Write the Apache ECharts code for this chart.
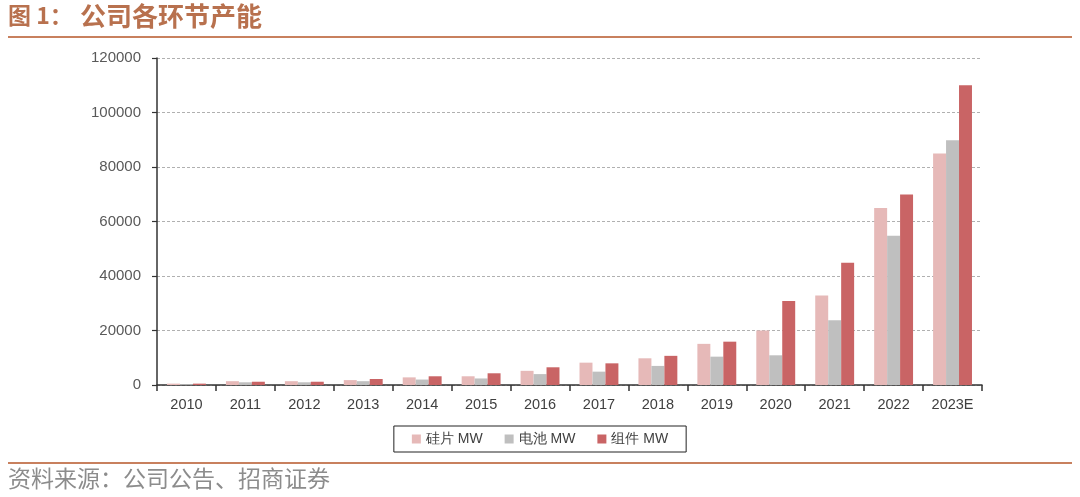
<!DOCTYPE html>
<html><head><meta charset="utf-8">
<script src="https://cdn.jsdelivr.net/npm/echarts@6/dist/echarts.min.js"></script>
<style>html,body{margin:0;padding:0;background:#fff}#c{width:1080px;height:497px}</style>
</head><body><div id="c"></div>
<script>
const categories = ['2010','2011','2012','2013','2014','2015','2016','2017','2018','2019','2020','2021','2022','2023E'];
const silicon = [500,1400,1400,1800,2800,3200,5200,8200,9800,15100,20000,32800,65000,85000];
const cell    = [300,1000,1000,1400,2000,2400,4000,4900,7000,10400,10900,23800,54800,89800];
const module_ = [500,1200,1200,2200,3200,4300,6500,7950,10700,15900,30800,44900,69900,110000];
const yTicks = [0,20000,40000,60000,80000,100000,120000];

const chart = echarts.init(document.getElementById('c'));
const lineColor = '#C8805E';
chart.setOption({
  animation:false,
  textStyle:{fontFamily:'Liberation Sans, Arial, sans-serif'},
  graphic:[
    {type:'text',left:8,top:4,style:{text:'图 1：',font:'bold 23px "Noto Sans CJK SC"',fill:'#B8714E'}},
    {type:'text',left:80,top:3,style:{text:'公司各环节产能',font:'bold 26px "Noto Sans CJK SC"',fill:'#B8714E'}},
    {type:'rect',shape:{x:8,y:36,width:1064,height:2},style:{fill:lineColor}},
    {type:'rect',shape:{x:8,y:462,width:1064,height:2},style:{fill:lineColor}},
    {type:'text',left:8,top:467,style:{text:'资料来源：公司公告、招商证券',font:'23px "Noto Sans CJK SC"',fill:'#8C8C8C'}}
  ],
  legend:{
    bottom:45,left:'center',
    data:['硅片 MW','电池 MW','组件 MW'],
    itemWidth:9,itemHeight:9,itemGap:22,icon:'rect',
    borderColor:'#222',borderWidth:1,padding:[6,18,6,18],
    textStyle:{fontSize:14,color:'#404040'}
  },
  grid:{left:157,right:98,top:58,bottom:112},
  xAxis:{
    type:'category',data:categories,
    axisLine:{lineStyle:{color:'#333',width:1.5}},
    axisTick:{show:true,length:6,lineStyle:{color:'#333',width:1.5}},
    axisLabel:{fontSize:14.5,color:'#404040',margin:12},
    splitLine:{show:false}
  },
  yAxis:{
    type:'value',min:yTicks[0],max:yTicks[yTicks.length-1],interval:20000,
    axisLine:{show:true,lineStyle:{color:'#333',width:1.5}},
    axisTick:{show:true,length:5,inside:false,lineStyle:{color:'#333',width:1.2}},
    axisLabel:{fontSize:15,color:'#595959',margin:16,formatter:v=>String(v)},
    splitLine:{show:true,lineStyle:{color:'#B0B0B0',type:[3,2],width:1}}
  },
  series:[
    {name:'硅片 MW',type:'bar',data:silicon,itemStyle:{color:'#E6B9B8'},barGap:'0%',barCategoryGap:'34%'},
    {name:'电池 MW',type:'bar',data:cell,itemStyle:{color:'#BFBFBF'}},
    {name:'组件 MW',type:'bar',data:module_,itemStyle:{color:'#C96465'}}
  ]
});
</script></body></html>
